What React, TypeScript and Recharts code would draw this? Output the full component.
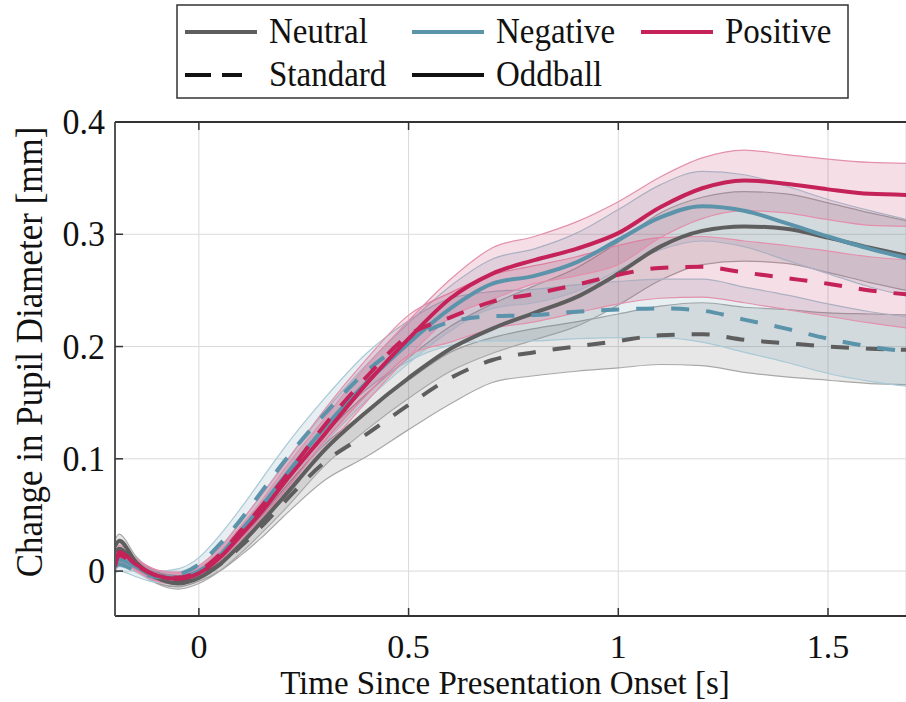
import React from "react";
import { ComposedChart, Line, Area, XAxis, YAxis, CartesianGrid } from "recharts";

// time axis (s) and tick values
const time = [-0.2, -0.19, -0.15, -0.1, -0.05, 0, 0.05, 0.1, 0.15, 0.2, 0.3, 0.4, 0.5, 0.6, 0.7, 0.8, 0.9, 1.0, 1.1, 1.2, 1.3, 1.4, 1.5, 1.6, 1.7];
const xTicks = [0, 0.5, 1, 1.5];
const yTicks = [0, 0.1, 0.2, 0.3, 0.4];

// Neutral
const neutralOdd = [0.022, 0.027, 0.008, -0.006, -0.011, -0.006, 0.006, 0.024, 0.044, 0.065, 0.108, 0.142, 0.172, 0.198, 0.216, 0.23, 0.244, 0.265, 0.289, 0.303, 0.307, 0.305, 0.297, 0.288, 0.28];
const neutralOddHi = [0.028, 0.033, 0.013, -0.001, -0.006, -0.001, 0.012, 0.032, 0.054, 0.077, 0.122, 0.158, 0.19, 0.218, 0.238, 0.254, 0.27, 0.293, 0.319, 0.333, 0.338, 0.336, 0.328, 0.319, 0.311];
const neutralOddLo = [0.016, 0.021, 0.003, -0.011, -0.016, -0.011, 0.0, 0.016, 0.034, 0.053, 0.094, 0.126, 0.154, 0.178, 0.194, 0.206, 0.218, 0.237, 0.259, 0.273, 0.276, 0.274, 0.266, 0.257, 0.249];
const neutralStd = [0.018, 0.02, 0.006, -0.006, -0.009, -0.004, 0.006, 0.022, 0.04, 0.06, 0.097, 0.122, 0.148, 0.172, 0.188, 0.195, 0.2, 0.205, 0.21, 0.211, 0.206, 0.203, 0.2, 0.198, 0.197];
const neutralStdHi = [0.024, 0.026, 0.011, -0.001, -0.004, 0.001, 0.012, 0.03, 0.05, 0.072, 0.113, 0.142, 0.17, 0.195, 0.208, 0.216, 0.222, 0.229, 0.236, 0.239, 0.235, 0.233, 0.23, 0.229, 0.228];
const neutralStdLo = [0.012, 0.014, 0.001, -0.011, -0.014, -0.009, 0.0, 0.014, 0.03, 0.048, 0.081, 0.102, 0.126, 0.149, 0.168, 0.174, 0.178, 0.181, 0.184, 0.183, 0.177, 0.173, 0.17, 0.167, 0.166];

// Negative
const negativeOdd = [0.006, 0.01, 0.004, -0.005, -0.006, 0.0, 0.014, 0.036, 0.058, 0.082, 0.128, 0.168, 0.203, 0.234, 0.256, 0.263, 0.275, 0.295, 0.315, 0.325, 0.321, 0.31, 0.298, 0.287, 0.278];
const negativeOddHi = [0.012, 0.016, 0.009, 0.0, -0.001, 0.005, 0.02, 0.044, 0.068, 0.094, 0.142, 0.184, 0.221, 0.254, 0.278, 0.287, 0.301, 0.322, 0.344, 0.356, 0.353, 0.343, 0.331, 0.321, 0.312];
const negativeOddLo = [0.0, 0.004, -0.001, -0.01, -0.011, -0.005, 0.008, 0.028, 0.048, 0.07, 0.114, 0.152, 0.185, 0.214, 0.234, 0.239, 0.249, 0.268, 0.286, 0.294, 0.289, 0.277, 0.265, 0.253, 0.244];
const negativeStd = [0.004, 0.006, 0.0, -0.005, -0.003, 0.006, 0.024, 0.046, 0.071, 0.096, 0.14, 0.178, 0.205, 0.222, 0.227, 0.228, 0.231, 0.233, 0.234, 0.232, 0.224, 0.216, 0.207, 0.2, 0.195];
const negativeStdHi = [0.01, 0.012, 0.005, 0.0, 0.002, 0.012, 0.032, 0.056, 0.082, 0.108, 0.154, 0.194, 0.223, 0.243, 0.249, 0.251, 0.255, 0.258, 0.26, 0.26, 0.253, 0.246, 0.238, 0.231, 0.226];
const negativeStdLo = [-0.002, 0.0, -0.005, -0.01, -0.008, 0.0, 0.016, 0.036, 0.06, 0.084, 0.126, 0.162, 0.187, 0.201, 0.205, 0.205, 0.207, 0.208, 0.208, 0.204, 0.195, 0.186, 0.176, 0.169, 0.164];

// Positive
const positiveOdd = [0.004, 0.017, 0.006, -0.004, -0.007, -0.002, 0.012, 0.032, 0.053, 0.077, 0.122, 0.167, 0.207, 0.243, 0.265, 0.277, 0.287, 0.301, 0.324, 0.341, 0.348, 0.345, 0.34, 0.336, 0.335];
const positiveOddHi = [0.01, 0.023, 0.011, 0.001, -0.002, 0.003, 0.018, 0.04, 0.063, 0.089, 0.136, 0.183, 0.223, 0.26, 0.288, 0.298, 0.311, 0.329, 0.351, 0.368, 0.375, 0.371, 0.367, 0.364, 0.363];
const positiveOddLo = [-0.002, 0.011, 0.001, -0.009, -0.012, -0.007, 0.006, 0.024, 0.043, 0.065, 0.108, 0.151, 0.191, 0.226, 0.242, 0.256, 0.263, 0.273, 0.297, 0.314, 0.321, 0.319, 0.313, 0.308, 0.307];
const positiveStd = [0.006, 0.014, 0.005, -0.004, -0.006, 0.0, 0.015, 0.036, 0.058, 0.081, 0.13, 0.173, 0.21, 0.226, 0.24, 0.247, 0.255, 0.264, 0.27, 0.271, 0.266, 0.261, 0.256, 0.25, 0.246];
const positiveStdHi = [0.012, 0.02, 0.01, 0.001, -0.001, 0.005, 0.021, 0.044, 0.068, 0.093, 0.144, 0.189, 0.228, 0.248, 0.264, 0.272, 0.28, 0.29, 0.297, 0.298, 0.294, 0.29, 0.285, 0.28, 0.277];
const positiveStdLo = [0.0, 0.008, 0.0, -0.009, -0.011, -0.005, 0.009, 0.028, 0.048, 0.069, 0.116, 0.157, 0.192, 0.204, 0.216, 0.222, 0.23, 0.238, 0.243, 0.244, 0.239, 0.233, 0.227, 0.221, 0.216];

const NEUTRAL = "#5e5e5e";
const NEGATIVE = "#5b93aa";
const POSITIVE = "#c42258";
const AXIS = "#333333";
const FONT = "Liberation Serif";

const PLOT_LEFT = 115;
const PLOT_TOP = 122;
const PLOT_BOTTOM = 616;

const data = time.map((t, i) => ({
  t,
  neuStd: neutralStd[i],
  neuStdBand: [neutralStdLo[i], neutralStdHi[i]],
  neuOdd: neutralOdd[i],
  neuOddBand: [neutralOddLo[i], neutralOddHi[i]],
  negStd: negativeStd[i],
  negStdBand: [negativeStdLo[i], negativeStdHi[i]],
  negOdd: negativeOdd[i],
  negOddBand: [negativeOddLo[i], negativeOddHi[i]],
  posStd: positiveStd[i],
  posStdBand: [positiveStdLo[i], positiveStdHi[i]],
  posOdd: positiveOdd[i],
  posOddBand: [positiveOddLo[i], positiveOddHi[i]],
}));

const series = [
  { key: "neuStd", color: NEUTRAL, dashed: true },
  { key: "neuOdd", color: NEUTRAL, dashed: false },
  { key: "negStd", color: NEGATIVE, dashed: true },
  { key: "negOdd", color: NEGATIVE, dashed: false },
  { key: "posStd", color: POSITIVE, dashed: true },
  { key: "posOdd", color: POSITIVE, dashed: false },
];

const bandEdge: Record<string, string> = {
  [NEUTRAL]: "#a8a8a8",
  [NEGATIVE]: "#a9c9d6",
  [POSITIVE]: "#e390ad",
};

const legendRows = [
  [
    { label: "Neutral", color: NEUTRAL, dashed: false, x: 185 },
    { label: "Negative", color: NEGATIVE, dashed: false, x: 412 },
    { label: "Positive", color: POSITIVE, dashed: false, x: 641 },
  ],
  [
    { label: "Standard", color: "#111111", dashed: true, x: 185 },
    { label: "Oddball", color: "#111111", dashed: false, x: 412 },
  ],
];

// serif text; optional vertical stretch, like the original export
function SerifText({ x, y, size, anchor, rotate, stretch = 1, children }: any) {
  const tf = `translate(${x},${y})${rotate ? ` rotate(${rotate})` : ""}${stretch !== 1 ? ` scale(1,${stretch})` : ""}`;
  return (
    <text transform={tf} x={0} y={0} textAnchor={anchor} fontFamily={FONT} fontSize={size} fill="#111">
      {children}
    </text>
  );
}

const BottomTick = (props: any) => {
  const { x, payload } = props;
  return (
    <g>
      <line x1={x} x2={x} y1={PLOT_BOTTOM} y2={PLOT_BOTTOM - 8} stroke={AXIS} strokeWidth={1.5} />
      <SerifText x={x} y={658} size={34} anchor="middle">
        {String(payload.value)}
      </SerifText>
    </g>
  );
};

const TopTick = (props: any) => {
  const { x } = props;
  return <line x1={x} x2={x} y1={PLOT_TOP} y2={PLOT_TOP + 8} stroke={AXIS} strokeWidth={1.5} />;
};

const LeftTick = (props: any) => {
  const { y, payload } = props;
  return (
    <g>
      <line x1={PLOT_LEFT} x2={PLOT_LEFT + 8} y1={y} y2={y} stroke={AXIS} strokeWidth={1.5} />
      <SerifText x={105} y={y + 12} size={34} anchor="end" stretch={1.08}>
        {String(payload.value)}
      </SerifText>
    </g>
  );
};

const XTitle = () => (
  <SerifText x={505} y={694} size={33} anchor="middle">
    Time Since Presentation Onset [s]
  </SerifText>
);

const YTitle = () => (
  <SerifText x={42} y={352} size={35} anchor="middle" rotate={-90} stretch={1.08}>
    Change in Pupil Diameter [mm]
  </SerifText>
);

function LegendBox() {
  return (
    <svg width={906} height={110} style={{ position: "absolute", left: 0, top: 0 }}>
      <rect x={177} y={5} width={671} height={93} fill="#fff" stroke={AXIS} strokeWidth={1.5} />
      {legendRows.map((row, r) =>
        row.map((item) => {
          const ly = r === 0 ? 32 : 75;
          return (
            <g key={item.label}>
              <line
                x1={item.x}
                x2={item.dashed ? item.x + 57 : item.x + 72}
                y1={ly}
                y2={ly}
                stroke={item.color}
                strokeWidth={4}
                strokeDasharray={item.dashed ? "26 11" : undefined}
              />
              <SerifText x={item.x + 84} y={ly + 11} size={33} anchor="start" stretch={1.08}>
                {item.label}
              </SerifText>
            </g>
          );
        })
      )}
    </svg>
  );
}

export default function App() {
  return (
    <div style={{ position: "absolute", left: 0, top: 0, width: 906, height: 702, background: "#fff" }}>
      <ComposedChart width={906} height={702} data={data} margin={{ top: 121, right: 0, bottom: 36, left: 15 }}>
        <CartesianGrid stroke="#dadada" strokeWidth={1} />
        <XAxis
          dataKey="t"
          type="number"
          domain={[-0.2, 1.686]}
          ticks={xTicks}
          allowDataOverflow
          interval={0}
          height={50}
          axisLine={{ stroke: AXIS, strokeWidth: 1.8 }}
          tickLine={false}
          tick={BottomTick}
          label={<XTitle />}
        />
        <XAxis
          xAxisId="top"
          orientation="top"
          dataKey="t"
          type="number"
          domain={[-0.2, 1.686]}
          ticks={xTicks}
          allowDataOverflow
          interval={0}
          height={1}
          axisLine={{ stroke: AXIS, strokeWidth: 1.8 }}
          tickLine={false}
          tick={TopTick}
        />
        <YAxis
          type="number"
          domain={[-0.04, 0.4]}
          ticks={yTicks}
          allowDataOverflow
          interval={0}
          width={100}
          axisLine={{ stroke: "#555", strokeWidth: 2 }}
          tickLine={false}
          tick={LeftTick}
          label={<YTitle />}
        />
        {series.map((s) => (
          <Area
            key={s.key + "Band"}
            type="monotone"
            dataKey={s.key + "Band"}
            fill={s.color}
            fillOpacity={0.15}
            stroke={bandEdge[s.color]}
            strokeWidth={1.2}
            dot={false}
            activeDot={false}
            isAnimationActive={false}
          />
        ))}
        {series.map((s) => (
          <Line
            key={s.key}
            type="monotone"
            dataKey={s.key}
            stroke={s.color}
            strokeWidth={4}
            strokeDasharray={s.dashed ? "18 17" : undefined}
            dot={false}
            activeDot={false}
            isAnimationActive={false}
          />
        ))}
      </ComposedChart>
      <LegendBox />
    </div>
  );
}
